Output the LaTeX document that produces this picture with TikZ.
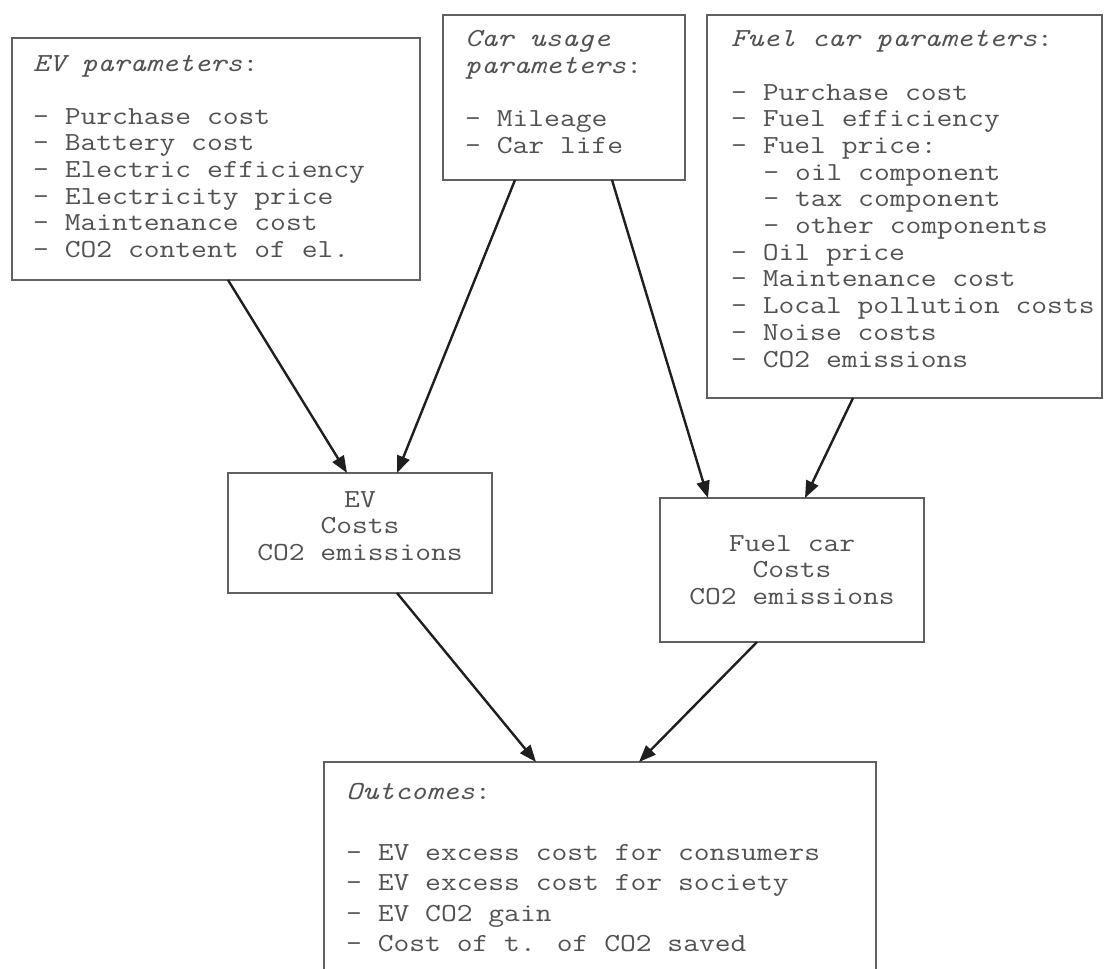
\documentclass[tikz,border=0pt]{standalone}
\usepackage{graphicx}
\usetikzlibrary{arrows.meta}
\newcommand\tlines[2]{\scalebox{1.18}[1]{\vtop{\baselineskip=#1\relax\lineskiplimit=-50pt\lineskip=0pt #2}}}
\newcommand\clines[2]{\scalebox{1.18}[1]{\vbox{\baselineskip=#1\relax\lineskiplimit=-50pt\lineskip=0pt\halign{\hfil##\hfil\cr#2\crcr}}}}
\begin{document}
\begin{tikzpicture}[x=1pt,y=-1pt,
  box/.style={draw=black!62, line width=2pt, rectangle, inner sep=0pt, outer sep=0pt, anchor=north west},
  txt/.style={anchor=base west, inner sep=0pt, text=black!68, font=\ttfamily\fontsize{26}{26.6}\selectfont},
  midtxt/.style={text=black!68, font=\ttfamily\fontsize{26}{26.6}\selectfont},
  arr/.style={draw=black!88, line width=2.4pt, -{Triangle[length=17pt,width=13pt]}}]
\useasboundingbox (0,0) rectangle (1104,969);
\fill[white] (0,0) rectangle (1104,969);
\clip (0,0) rectangle (1104,969);

% boxes
\node[box, minimum width=408pt, minimum height=242pt] (b1) at (12,38) {};
\node[box, minimum width=242pt, minimum height=165pt] (b2) at (443,15) {};
\node[box, minimum width=395pt, minimum height=383pt] (b3) at (707,15) {};
\node[box, midtxt, minimum width=264pt, minimum height=120pt] (ev) at (228,473)
  {\clines{26.6pt}{EV\cr Costs\cr CO2 emissions}\rule[-14pt]{0pt}{0pt}};
\node[box, midtxt, minimum width=264pt, minimum height=144pt] (fc) at (660,498)
  {\clines{26.6pt}{Fuel car\cr Costs\cr CO2 emissions}};
\node[box, minimum width=552pt, minimum height=260pt] (out) at (324,762) {};

% box texts
\node[txt] (t1) at (33,71) {\tlines{26.6pt}{%
  \hbox{\textit{EV parameters}:}\hbox{}%
  \hbox{- Purchase cost}%
  \hbox{- Battery cost}%
  \hbox{- Electric efficiency}%
  \hbox{- Electricity price}%
  \hbox{- Maintenance cost}%
  \hbox{- CO2 content of el.}}};
\node[txt] (t2) at (465,46.7) {\tlines{26.6pt}{%
  \hbox{\textit{Car usage}}%
  \hbox{\textit{parameters}:}\hbox{}%
  \hbox{- Mileage}%
  \hbox{- Car life}}};
\node[txt] (t3) at (731,46.7) {\tlines{26.7pt}{%
  \hbox{\textit{Fuel car parameters}:}\hbox{}%
  \hbox{- Purchase cost}%
  \hbox{- Fuel efficiency}%
  \hbox{- Fuel price:}%
  \hbox{\hspace*{1.05em}- oil component}%
  \hbox{\hspace*{1.05em}- tax component}%
  \hbox{\hspace*{1.05em}- other components}%
  \hbox{- Oil price}%
  \hbox{- Maintenance cost}%
  \hbox{- Local pollution costs}%
  \hbox{- Noise costs}%
  \hbox{- CO2 emissions}}};
\node[txt] (t6) at (346,799) {\tlines{30.5pt}{%
  \hbox{\textit{Outcomes}:}\hbox{}%
  \hbox{- EV excess cost for consumers}%
  \hbox{- EV excess cost for society}%
  \hbox{- EV CO2 gain}%
  \hbox{- Cost of t. of CO2 saved}}};

% connectors
\draw[arr] ([xshift=216pt]b1.south west) -- ([xshift=119pt]ev.north west);
\draw[arr] ([xshift=72pt]b2.south west) -- ([xshift=169pt]ev.north west);
\draw[arr] ([xshift=169pt]b2.south west) -- ([xshift=48pt]fc.north west);
\draw[arr] ([xshift=146pt]b3.south west) -- ([xshift=145pt]fc.north west);
\draw[arr] ([xshift=169pt]ev.south west) -- ([xshift=212pt]out.north west);
\draw[arr] ([xshift=97pt]fc.south west) -- ([xshift=315pt]out.north west);
\end{tikzpicture}
\end{document}
